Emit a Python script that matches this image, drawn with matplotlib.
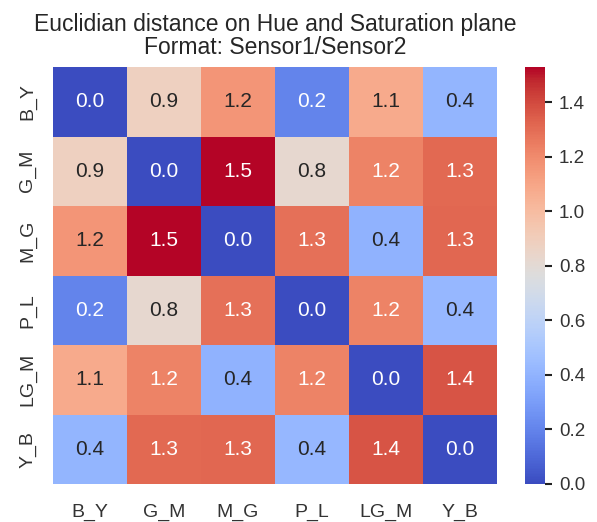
import numpy as np
import matplotlib
matplotlib.use("Agg")
import matplotlib.pyplot as plt
import seaborn as sns

# Sensor pair labels (rows and columns share the same order)
pairs = ["B_Y", "G_M", "M_G", "P_L", "LG_M", "Y_B"]

# Pairwise Euclidian distances on the Hue/Saturation plane
row_B_Y = [0.00, 0.88, 1.16, 0.20, 1.08, 0.41]
row_G_M = [0.88, 0.00, 1.53, 0.82, 1.23, 1.31]
row_M_G = [1.16, 1.53, 0.00, 1.29, 0.40, 1.32]
row_P_L = [0.20, 0.82, 1.29, 0.00, 1.23, 0.42]
row_LG_M = [1.08, 1.23, 0.40, 1.23, 0.00, 1.37]
row_Y_B = [0.41, 1.31, 1.32, 0.42, 1.37, 0.00]

dist = np.array([row_B_Y, row_G_M, row_M_G, row_P_L, row_LG_M, row_Y_B])

sns.set_theme(style="white")
plt.rcParams["font.family"] = ["Liberation Sans", "DejaVu Sans"]

fig = plt.figure(figsize=(5.97, 5.22), dpi=100)
ax = fig.add_axes([53 / 597, 1 - 484 / 522, 444 / 597, 417 / 522])
cax = fig.add_axes([525 / 597, 1 - 484 / 522, 20 / 597, 417 / 522])

sns.heatmap(dist, ax=ax, cbar_ax=cax, cmap="coolwarm", annot=True, fmt=".1f",
            annot_kws={"fontsize": 15}, xticklabels=pairs, yticklabels=pairs)

ax.set_title("Euclidian distance on Hue and Saturation plane\nFormat: Sensor1/Sensor2",
             fontsize=16.5, pad=9, color="#262626", linespacing=1.0)
ax.tick_params(axis="both", length=0, labelsize=14, colors="#333333")
ax.tick_params(axis="x", pad=14)
ax.tick_params(axis="y", pad=12)
plt.setp(ax.get_yticklabels(), rotation=90, va="center")
plt.setp(ax.get_xticklabels(), rotation=0)

cax.tick_params(axis="y", right=True, length=5, width=1.5, color="#222222",
                labelsize=13.5, labelcolor="#333333", pad=5)
cax.set_yticks(np.arange(0, 1.41, 0.2))

fig.savefig("out.png", dpi=100)
